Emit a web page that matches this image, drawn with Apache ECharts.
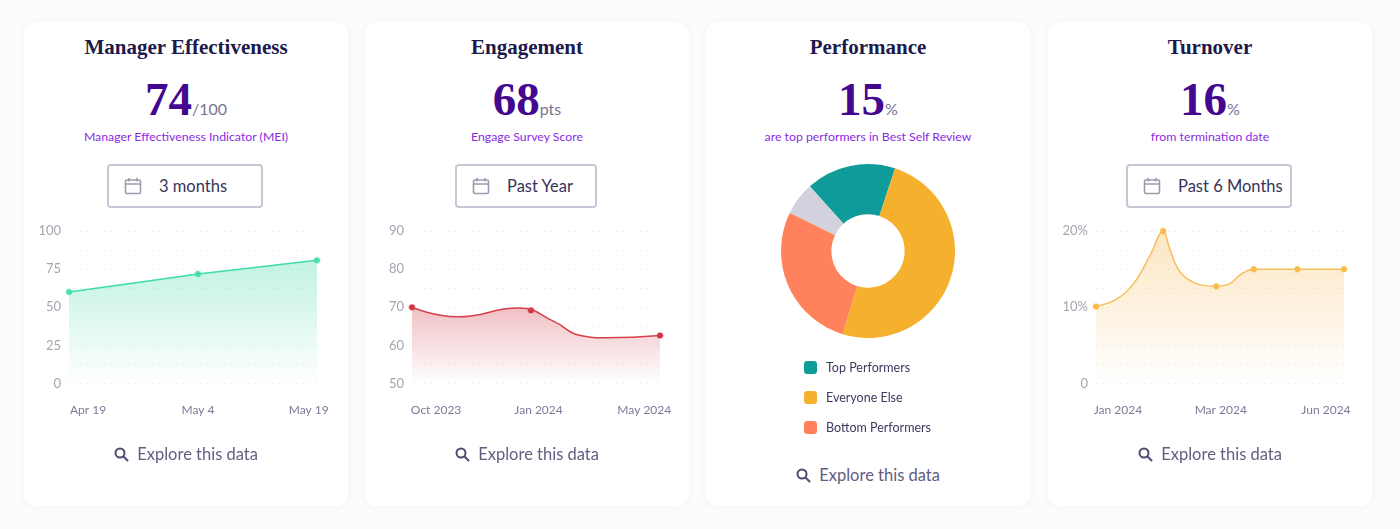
<!DOCTYPE html>
<html>
<head>
<meta charset="utf-8">
<title>People dashboard</title>
<script src="https://cdn.jsdelivr.net/npm/echarts@6/dist/echarts.min.js"></script>
<style>
    html, body { margin: 0; padding: 0; width: 1400px; height: 529px; overflow: hidden; background: #fdfcfa; font-family: Lato, sans-serif; }
    .card { position: absolute; top: 22px; width: 324px; height: 484px; background: #fff; border-radius: 12px; box-shadow: 0 1px 8px rgba(60, 50, 90, .05); text-align: center; }
    .title { position: absolute; left: 0; right: 0; top: 12px; font: bold 21px/26px "Liberation Serif", serif; color: #1d1a4b; }
    .big { position: absolute; left: 0; right: 0; top: 47px; color: #44078f; font: bold 47px/60px "Liberation Serif", serif; }
    .big span { font: 16px Lato, sans-serif; color: #77748f; margin-left: 0; }
    .sub { position: absolute; left: 0; right: 0; top: 107px; font-size: 12.3px; line-height: 16px; color: #8a2be2; }
    .btn { position: absolute; top: 142px; height: 40px; border: 2px solid #c6c8d6; border-radius: 4px; font-size: 16.5px; line-height: 40px; color: #38345c; }
    .btn svg { position: absolute; left: 15px; top: 11px; }
    .btn b { position: absolute; font-weight: normal; white-space: nowrap; }
    .explore { position: absolute; left: 0; right: 0; top: 421px; font-size: 16.5px; line-height: 22px; color: #625e82; }
    .explore svg { vertical-align: -2px; margin-right: 4px; }
    .chart { position: absolute; left: 0; top: 190px; width: 324px; height: 240px; }
    #pie { top: 135px; height: 290px; }
</style>
</head>
<body>

<div class="card" style="left:24px">
    <div class="title">Manager Effectiveness</div>
    <div class="big">74<span>/100</span></div>
    <div class="sub">Manager Effectiveness Indicator (MEI)</div>
    <div class="btn" style="left:83px;width:152px"><svg width="18" height="18" viewBox="0 0 18 18"><use href="#cal"/></svg><b style="left:50px">3 months</b></div>
    <div class="chart" id="mgr"></div>
    <div class="explore"><svg width="15" height="15" viewBox="0 0 15 15"><use href="#mag"/></svg> Explore this data</div>
</div>

<div class="card" style="left:365px">
    <div class="title">Engagement</div>
    <div class="big">68<span>pts</span></div>
    <div class="sub">Engage Survey Score</div>
    <div class="btn" style="left:90px;width:138px"><svg width="18" height="18" viewBox="0 0 18 18"><use href="#cal"/></svg><b style="left:50px">Past Year</b></div>
    <div class="chart" id="eng"></div>
    <div class="explore"><svg width="15" height="15" viewBox="0 0 15 15"><use href="#mag"/></svg> Explore this data</div>
</div>

<div class="card" style="left:706px">
    <div class="title">Performance</div>
    <div class="big">15<span>%</span></div>
    <div class="sub">are top performers in Best Self Review</div>
    <div class="chart" id="pie"></div>
    <div class="explore" style="top:442px"><svg width="15" height="15" viewBox="0 0 15 15"><use href="#mag"/></svg> Explore this data</div>
</div>

<div class="card" style="left:1048px">
    <div class="title">Turnover</div>
    <div class="big">16<span>%</span></div>
    <div class="sub">from termination date</div>
    <div class="btn" style="left:78px;width:162px"><svg width="18" height="18" viewBox="0 0 18 18"><use href="#cal"/></svg><b style="left:50px">Past 6 Months</b></div>
    <div class="chart" id="turn"></div>
    <div class="explore"><svg width="15" height="15" viewBox="0 0 15 15"><use href="#mag"/></svg> Explore this data</div>
</div>

<svg width="0" height="0" style="position:absolute">
    <defs>
        <g id="cal" fill="none" stroke="#9a9bae" stroke-width="1.6">
            <rect x="1.5" y="3" width="15" height="13.5" rx="1.5"/>
            <path d="M1.5 7h15M5 1v3.5M13 1v3.5"/>
        </g>
        <g id="mag" fill="none" stroke="#4f4b70" stroke-width="2">
            <circle cx="6" cy="6" r="4.5"/>
            <path d="M9.5 9.5l4 4" stroke-linecap="round"/>
        </g>
    </defs>
</svg>

<script>
// manager effectiveness, x is days since the first survey
var mgrDays = [0, 15.6, 30];
var mgrCurve = [60, 71.8, 80.8];
var mgrTickDays = [2.3, 15.6, 29];
var mgrTickLabels = ['Apr 19', 'May 4', 'May 19'];
var mgrYLabels = ['0', '', '25', '', '50', '', '75', '', '100'];

// engagement, curve values, points are the dots
var engCurveDays = [0, 44, 105, 139, 165, 190, 243];
var engCurve = [70, 67.5, 69.8, 66.3, 62.6, 62, 62.6];
var engPointDays = [0, 116.6, 243];
var engPoints = [70, 69.2, 62.6];
var engTickDays = [23.6, 124, 227.6];
var engTickLabels = ['Oct 2023', 'Jan 2024', 'May 2024'];
var engYLabels = ['50', '', '60', '', '70', '', '80', '', '90'];

// performance split
var perfNames = ['Top Performers', 'Everyone Else', 'Bottom Performers', 'Not Rated'];
var perfValues = [16.7, 49.7, 27.5, 6.1];
var perfLegend = ['Top Performers', 'Everyone Else', 'Bottom Performers'];

// turnover
var turnCurveDays = [0, 14, 25, 36, 44.7, 49, 56, 67, 80, 89, 97, 105, 134, 165];
var turnCurve = [10.1, 11.1, 13.1, 16.8, 20, 17.7, 14.6, 13.1, 12.75, 13.1, 14.4, 15, 15, 15];
var turnPointDays = [0, 44.7, 80, 105, 134, 165];
var turnPoints = [10.1, 20, 12.75, 15, 15, 15];
var turnTickDays = [14.6, 83, 153];
var turnTickLabels = ['Jan 2024', 'Mar 2024', 'Jun 2024'];
var turnYLabels = ['0', '', '', '', '10%', '', '', '', '20%'];

function zip(xs, ys) {
    return xs.map(function (x, i) { return [x, ys[i]]; });
}

function areaChart(id, cfg) {
    var myChart = echarts.init(document.getElementById(id));
    myChart.setOption({
        animation: false,
        grid: { left: cfg.left, width: 248, top: 19, height: 152.6 },
        xAxis: {
            type: 'value',
            min: 0,
            max: cfg.maxDay,
            axisLine: { show: false },
            axisTick: { show: false },
            splitLine: { show: false },
            axisLabel: {
                customValues: cfg.tickDays,
                margin: 21,
                fontFamily: 'Lato',
                fontSize: 12,
                color: '#7d7a99',
                formatter: function (v) {
                    return cfg.tickLabels[cfg.tickDays.indexOf(v)];
                }
            }
        },
        yAxis: {
            type: 'value',
            min: cfg.yMin,
            max: cfg.yMax,
            interval: cfg.yStep,
            axisLine: { show: false },
            axisTick: { show: false },
            splitLine: { lineStyle: { color: '#e4e4ea', type: [1, 5], width: 1 } },
            axisLabel: {
                margin: 8,
                fontFamily: 'Lato',
                fontSize: 13,
                color: '#a3a6b0',
                formatter: function (v, i) {
                    return cfg.yLabels[i];
                }
            }
        },
        series: [{
            type: 'line',
            data: cfg.curve,
            smooth: cfg.smooth,
            symbol: 'none',
            lineStyle: { color: cfg.line, width: 1.5 },
            areaStyle: {
                color: new echarts.graphic.LinearGradient(0, 0, 0, 1, [
                    { offset: 0, color: cfg.areaTop },
                    { offset: 1, color: cfg.areaBottom }
                ])
            }
        }, {
            type: 'scatter',
            data: cfg.points,
            clip: false,
            symbolSize: 7,
            itemStyle: { color: cfg.dot, borderColor: '#fff', borderWidth: 1 }
        }]
    });
}

areaChart('mgr', {
    left: 45, maxDay: 30, yMin: 0, yMax: 100, yStep: 12.5, yLabels: mgrYLabels,
    tickDays: mgrTickDays, tickLabels: mgrTickLabels,
    curve: zip(mgrDays, mgrCurve), points: zip(mgrDays, mgrCurve), smooth: 0.1,
    line: '#3ddcaa', dot: '#22d69e',
    areaTop: 'rgba(60,215,165,.45)', areaBottom: 'rgba(60,215,165,0)'
});

areaChart('eng', {
    left: 47, maxDay: 243, yMin: 50, yMax: 90, yStep: 5, yLabels: engYLabels,
    tickDays: engTickDays, tickLabels: engTickLabels,
    curve: zip(engCurveDays, engCurve), points: zip(engPointDays, engPoints), smooth: 0.5,
    line: '#d5404a', dot: '#c8000f',
    areaTop: 'rgba(205,40,55,.42)', areaBottom: 'rgba(205,40,55,0)'
});

areaChart('turn', {
    left: 48, maxDay: 165, yMin: 0, yMax: 20, yStep: 2.5, yLabels: turnYLabels,
    tickDays: turnTickDays, tickLabels: turnTickLabels,
    curve: zip(turnCurveDays, turnCurve), points: zip(turnPointDays, turnPoints), smooth: 0.4,
    line: '#f7bd5a', dot: '#f9a911',
    areaTop: 'rgba(245,176,60,.45)', areaBottom: 'rgba(245,176,60,0)'
});

var pieChart = echarts.init(document.getElementById('pie'));
pieChart.setOption({
    animation: false,
    color: ['#0f9b99', '#f5b02d', '#ff825c', '#d2d2de'],
    legend: {
        data: perfLegend,
        orient: 'vertical',
        left: 93,
        top: 199,
        icon: 'roundRect',
        itemWidth: 13,
        itemHeight: 13,
        itemGap: 17,
        textStyle: { fontFamily: 'Lato', fontSize: 12.5, color: '#3c3a5e', padding: [0, 0, 0, 4] }
    },
    series: [{
        type: 'pie',
        center: [162, 94],
        radius: [36.7, 87],
        startAngle: 132,
        label: { show: false },
        labelLine: { show: false },
        data: perfNames.map(function (name, i) {
            return { name: name, value: perfValues[i] };
        })
    }]
});
</script>
</body>
</html>
